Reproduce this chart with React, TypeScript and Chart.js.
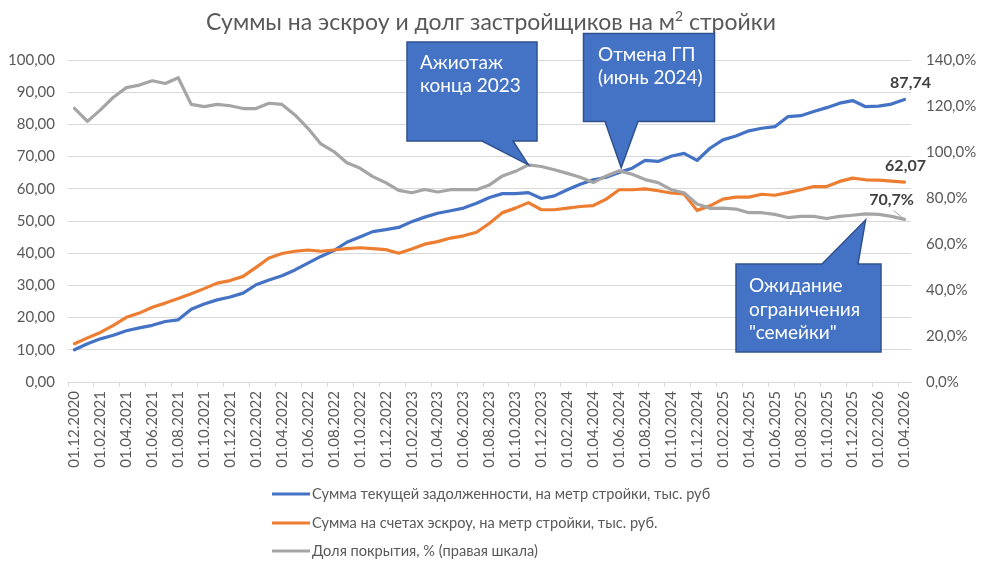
import { useEffect, useRef } from 'react';
import { Chart, registerables } from 'chart.js';

Chart.register(...registerables);

const months = [
  '01.12.2020',
  '01.01.2021', '01.02.2021', '01.03.2021', '01.04.2021', '01.05.2021', '01.06.2021',
  '01.07.2021', '01.08.2021', '01.09.2021', '01.10.2021', '01.11.2021', '01.12.2021',
  '01.01.2022', '01.02.2022', '01.03.2022', '01.04.2022', '01.05.2022', '01.06.2022',
  '01.07.2022', '01.08.2022', '01.09.2022', '01.10.2022', '01.11.2022', '01.12.2022',
  '01.01.2023', '01.02.2023', '01.03.2023', '01.04.2023', '01.05.2023', '01.06.2023',
  '01.07.2023', '01.08.2023', '01.09.2023', '01.10.2023', '01.11.2023', '01.12.2023',
  '01.01.2024', '01.02.2024', '01.03.2024', '01.04.2024', '01.05.2024', '01.06.2024',
  '01.07.2024', '01.08.2024', '01.09.2024', '01.10.2024', '01.11.2024', '01.12.2024',
  '01.01.2025', '01.02.2025', '01.03.2025', '01.04.2025', '01.05.2025', '01.06.2025',
  '01.07.2025', '01.08.2025', '01.09.2025', '01.10.2025', '01.11.2025', '01.12.2025',
  '01.01.2026', '01.02.2026', '01.03.2026', '01.04.2026',
];

// тыс. руб на метр стройки
const debtPerMeter = [
  10.0, 11.9, 13.4, 14.5, 15.9, 16.8, 17.6, 18.8, 19.3, 22.6, 24.2, 25.5, 26.4,
  27.6, 30.2, 31.7, 33.0, 34.8, 36.9, 39.0, 40.8, 43.4, 45.0, 46.7, 47.3,
  48.0, 49.8, 51.2, 52.4, 53.2, 54.0, 55.5, 57.3, 58.5, 58.5, 58.8, 57.0,
  57.8, 59.7, 61.4, 62.8, 63.6, 65.1, 66.4, 68.8, 68.5, 70.1, 71.0, 68.8,
  72.6, 75.2, 76.4, 78.0, 78.8, 79.3, 82.4, 82.7, 84.0, 85.2, 86.6, 87.4,
  85.5, 85.7, 86.3, 87.74,
];

const escrowPerMeter = [
  11.9, 13.7, 15.4, 17.6, 20.1, 21.4, 23.2, 24.5, 25.9, 27.4, 29.0, 30.7, 31.5,
  32.8, 35.6, 38.5, 39.9, 40.6, 41.0, 40.6, 41.0, 41.4, 41.7, 41.4, 41.1,
  40.0, 41.3, 42.8, 43.6, 44.7, 45.4, 46.5, 49.3, 52.6, 54.0, 55.7, 53.5,
  53.5, 54.0, 54.5, 54.8, 56.8, 59.7, 59.7, 60.0, 59.4, 58.7, 58.4, 53.3,
  54.7, 56.8, 57.4, 57.4, 58.3, 58.0, 58.8, 59.7, 60.7, 60.7, 62.3, 63.3,
  62.8, 62.7, 62.4, 62.07,
];

// %, правая шкала
const coverageShare = [
  119.0, 113.3, 118.3, 123.8, 128.0, 129.1, 131.0, 129.8, 132.3, 120.7, 119.7, 120.7, 120.1,
  118.9, 118.9, 121.2, 120.7, 116.1, 110.3, 103.5, 100.2, 95.3, 93.0, 89.3, 86.7,
  83.3, 82.3, 83.7, 82.6, 83.6, 83.6, 83.6, 85.7, 89.6, 91.6, 94.4, 93.7,
  92.3, 90.7, 89.0, 86.7, 89.6, 91.8, 90.3, 88.0, 86.7, 83.6, 82.3, 77.4,
  75.5, 75.6, 75.2, 73.6, 73.6, 72.9, 71.5, 72.0, 72.0, 71.1, 72.0, 72.5,
  73.1, 72.9, 72.0, 70.7,
];

const seriesNames = [
  'Сумма текущей задолженности, на метр стройки, тыс. руб',
  'Сумма на счетах эскроу, на метр стройки, тыс. руб.',
  'Доля покрытия, % (правая шкала)',
];
const seriesColors = ['#4472C4', '#ED7D31', '#A5A5A5'];

const FONT = 'Lato, "Noto Sans", sans-serif';
const TEXT = '#595959';

const fmtLeft = (v: number) => v.toFixed(2).replace('.', ',');
const fmtRight = (v: number) => v.toFixed(1).replace('.', ',') + '%';

type Callout = {
  box: [number, number, number, number];
  tail: [number, number];
  side: 'top' | 'bottom';
  point: number;
  shift: [number, number];
  lines: string[];
  textX: number;
  textY: number[];
};

const callouts: Callout[] = [
  { box: [407, 42, 130, 99], tail: [482, 513], side: 'bottom', point: 35, shift: [0, 0],
    lines: ['Ажиотаж', 'конца 2023'], textX: 420, textY: [63, 86] },
  { box: [583.5, 33.5, 131, 88], tail: [605, 638], side: 'bottom', point: 42, shift: [2, -3],
    lines: ['Отмена ГП', '(июнь 2024)'], textX: 598, textY: [55, 78] },
  { box: [736, 264, 145, 88], tail: [822, 858], side: 'top', point: 61, shift: [0, 6],
    lines: ['Ожидание', 'ограничения', '"семейки"'], textX: 749, textY: [286, 310, 333] },
];

const extrasPlugin = {
  id: 'extras',
  afterDatasetsDraw(chart: Chart) {
    const ctx = chart.ctx;
    const xs = chart.scales.x;
    const yl = chart.scales.yLeft;
    const yr = chart.scales.yRight;
    ctx.save();

    // title with superscript
    const big = `23px ${FONT}`;
    const small = `14px ${FONT}`;
    const p1 = 'Суммы на эскроу и долг застройщиков на м';
    const p2 = '2';
    const p3 = ' стройки';
    ctx.font = big;
    const w1 = ctx.measureText(p1).width;
    const w3 = ctx.measureText(p3).width;
    ctx.font = small;
    const w2 = ctx.measureText(p2).width;
    let tx = 491 - (w1 + w2 + w3) / 2;
    ctx.fillStyle = TEXT;
    ctx.textBaseline = 'alphabetic';
    ctx.textAlign = 'left';
    ctx.font = big;
    ctx.fillText(p1, tx, 30);
    tx += w1;
    ctx.font = small;
    ctx.fillText(p2, tx, 21);
    tx += w2;
    ctx.font = big;
    ctx.fillText(p3, tx, 30);

    // callouts
    callouts.forEach((c) => {
      const [bx, by, bw, bh] = c.box;
      const px = xs.getPixelForValue(c.point) + c.shift[0];
      const py = yr.getPixelForValue(coverageShare[c.point]) + c.shift[1];
      ctx.beginPath();
      if (c.side === 'bottom') {
        ctx.moveTo(bx, by);
        ctx.lineTo(bx + bw, by);
        ctx.lineTo(bx + bw, by + bh);
        ctx.lineTo(c.tail[1], by + bh);
        ctx.lineTo(px, py);
        ctx.lineTo(c.tail[0], by + bh);
        ctx.lineTo(bx, by + bh);
      } else {
        ctx.moveTo(bx, by);
        ctx.lineTo(c.tail[0], by);
        ctx.lineTo(px, py);
        ctx.lineTo(c.tail[1], by);
        ctx.lineTo(bx + bw, by);
        ctx.lineTo(bx + bw, by + bh);
        ctx.lineTo(bx, by + bh);
      }
      ctx.closePath();
      ctx.fillStyle = '#4472C4';
      ctx.fill();
      ctx.strokeStyle = '#2F528F';
      ctx.lineWidth = 1.5;
      ctx.stroke();
      ctx.fillStyle = '#FFFFFF';
      ctx.font = `19px ${FONT}`;
      ctx.textBaseline = 'middle';
      c.lines.forEach((s, i) => ctx.fillText(s, c.textX, c.textY[i]));
    });

    // data labels at the last point
    const last = months.length - 1;
    const lx = xs.getPixelForValue(last);
    ctx.font = `bold 16px ${FONT}`;
    ctx.fillStyle = '#404040';
    ctx.textAlign = 'center';
    ctx.textBaseline = 'middle';
    ctx.fillText(fmtLeft(debtPerMeter[last]), lx + 6, yl.getPixelForValue(debtPerMeter[last]) - 17);
    ctx.fillText(fmtLeft(escrowPerMeter[last]), lx + 1, yl.getPixelForValue(escrowPerMeter[last]) - 16);
    const gy = yr.getPixelForValue(coverageShare[last]);
    ctx.fillText(fmtRight(coverageShare[last]), lx - 13, gy - 20);
    ctx.strokeStyle = '#A5A5A5';
    ctx.lineWidth = 1;
    ctx.beginPath();
    ctx.moveTo(lx - 11, gy - 9);
    ctx.lineTo(lx, gy);
    ctx.stroke();

    // legend
    ctx.textAlign = 'left';
    ctx.font = `14.6px ${FONT}`;
    const rows = [494, 523, 551];
    seriesNames.forEach((name, i) => {
      ctx.strokeStyle = seriesColors[i];
      ctx.lineWidth = 3;
      ctx.beginPath();
      ctx.moveTo(272, rows[i]);
      ctx.lineTo(310, rows[i]);
      ctx.stroke();
      ctx.fillStyle = TEXT;
      ctx.fillText(name, 312, rows[i]);
    });

    ctx.restore();
  },
};

export default function App() {
  const canvasRef = useRef<HTMLCanvasElement>(null);

  useEffect(() => {
    document.body.style.margin = '0';
    if (!canvasRef.current) return;

    const line = (i: number) => ({
      borderColor: seriesColors[i],
      backgroundColor: seriesColors[i],
      borderWidth: 3.2,
      pointRadius: 0,
      tension: 0,
      fill: false,
      borderJoinStyle: 'round' as const,
      borderCapStyle: 'round' as const,
    });

    const chart = new Chart(canvasRef.current, {
      type: 'line',
      data: {
        labels: months,
        datasets: [
          { label: seriesNames[0], data: debtPerMeter, yAxisID: 'yLeft', order: 3, ...line(0) },
          { label: seriesNames[1], data: escrowPerMeter, yAxisID: 'yLeft', order: 2, ...line(1) },
          { label: seriesNames[2], data: coverageShare, yAxisID: 'yRight', order: 1, ...line(2) },
        ],
      },
      options: {
        responsive: false,
        animation: false,
        layout: { padding: { top: 60, left: 0, right: 0, bottom: 0 } },
        plugins: {
          legend: { display: false },
          title: { display: false },
          tooltip: { enabled: false },
        },
        scales: {
          x: {
            offset: true,
            afterFit: (s: any) => { s.height = 189; },
            grid: {
              offset: true,
              drawOnChartArea: false,
              drawTicks: true,
              tickLength: 5,
              color: (c: any) => (c.index % 2 === 0 ? '#D9D9D9' : 'rgba(0,0,0,0)'),
            },
            border: { color: '#D9D9D9' },
            ticks: {
              autoSkip: false,
              maxRotation: 90,
              minRotation: 90,
              padding: 4,
              color: TEXT,
              font: { family: FONT, size: 15 },
              callback: (_v: any, i: number) => (i % 2 === 0 ? months[i] : ''),
            },
          },
          yLeft: {
            position: 'left',
            min: 0,
            max: 100,
            afterFit: (s: any) => { s.width = 68; },
            grid: { color: '#D9D9D9', drawTicks: false },
            border: { display: false },
            ticks: {
              stepSize: 10,
              padding: 13,
              color: TEXT,
              font: { family: FONT, size: 15 },
              callback: (v: any) => fmtLeft(Number(v)),
            },
          },
          yRight: {
            position: 'right',
            min: 0,
            max: 140,
            afterFit: (s: any) => { s.width = 70; },
            grid: { drawOnChartArea: false, drawTicks: false },
            border: { display: false },
            ticks: {
              stepSize: 20,
              padding: 15,
              color: TEXT,
              font: { family: FONT, size: 15 },
              callback: (v: any) => fmtRight(Number(v)),
            },
          },
        },
      },
      plugins: [extrasPlugin],
    });

    return () => {
      chart.destroy();
    };
  }, []);

  return (
    <div style={{ position: 'absolute', left: 0, top: 0, width: 981, height: 571, background: '#fff' }}>
      <canvas ref={canvasRef} width={981} height={571}></canvas>
    </div>
  );
}
